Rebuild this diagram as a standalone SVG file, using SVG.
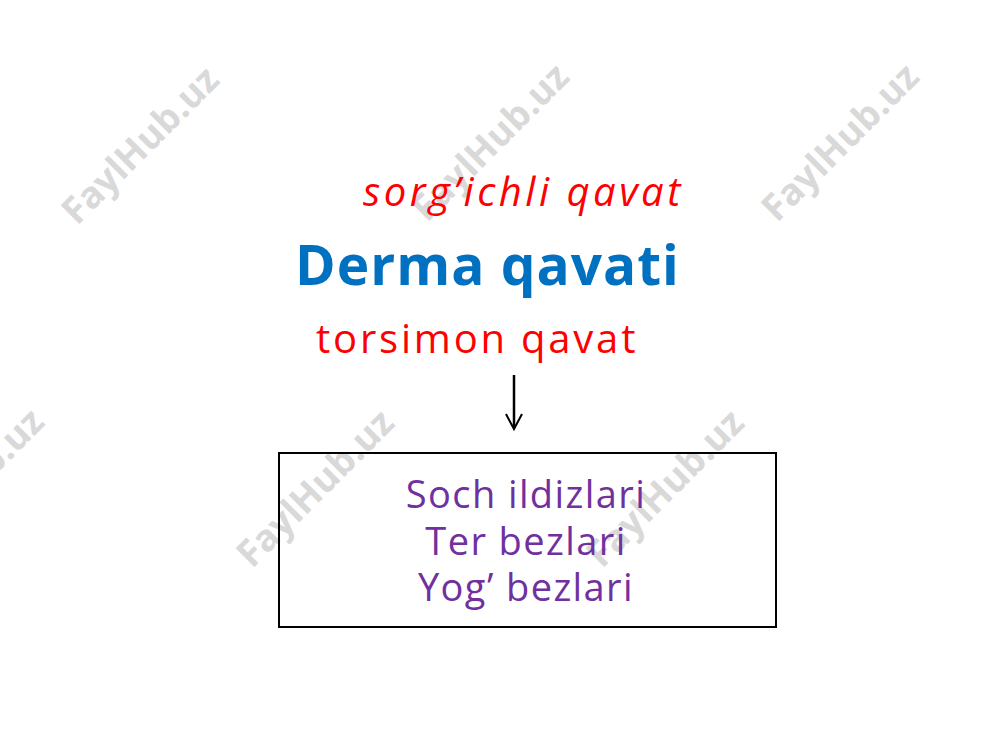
<svg xmlns="http://www.w3.org/2000/svg" width="1000" height="750" viewBox="0 0 1000 750">
<style>
.wm{font-family:"Open Sans","Noto Sans",sans-serif;font-weight:bold;font-size:37px;fill:#d9d9d9;text-anchor:middle}
.red{font-family:"Open Sans","Noto Sans",sans-serif;font-size:40px;fill:#ff0000}
.blue{font-family:"Open Sans","Noto Sans",sans-serif;font-size:55px;font-weight:bold;fill:#0070c0}
.pur{font-family:"Open Sans","Noto Sans",sans-serif;font-size:38px;fill:#7030a0;text-anchor:middle;letter-spacing:1.4px}
</style>
<rect width="1000" height="750" fill="#ffffff"/>
<g id="watermarks">
<text class="wm" transform="translate(140,145) rotate(-45)" dy="13">FaylHub.uz</text>
<text class="wm" transform="translate(490,142) rotate(-45)" dy="13">FaylHub.uz</text>
<text class="wm" transform="translate(840,142) rotate(-45)" dy="13">FaylHub.uz</text>
<text class="wm" transform="translate(-35,487) rotate(-45)" dy="13">FaylHub.uz</text>
<text class="wm" transform="translate(315,488) rotate(-45)" dy="13">FaylHub.uz</text>
<text class="wm" transform="translate(665,488) rotate(-45)" dy="13">FaylHub.uz</text>
</g>
<g id="title">
<text class="red" x="363" y="206" font-style="italic" letter-spacing="3.5">sorg’ichli qavat</text>
<text class="blue" x="295" y="285" letter-spacing="1">Derma qavati</text>
<text class="red" x="316" y="353" letter-spacing="2.8">torsimon qavat</text>
</g>
<g id="connectors">
<line x1="514" y1="375" x2="514" y2="428" stroke="#000" stroke-width="2.5"/>
<polyline points="506,414 514,429 522,414" fill="none" stroke="#000" stroke-width="2"/>
</g>
<g id="box">
<rect x="279" y="453" width="497" height="174" fill="none" stroke="#000" stroke-width="2"/>
<text class="pur" x="526" y="508">Soch ildizlari</text>
<text class="pur" x="526" y="555">Ter bezlari</text>
<text class="pur" x="526" y="601">Yog’ bezlari</text>
</g>
</svg>
